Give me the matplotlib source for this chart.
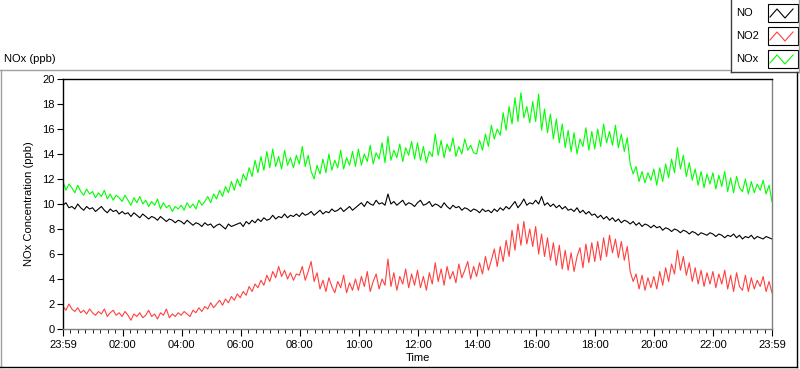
import numpy as np
import matplotlib.pyplot as plt
from matplotlib.lines import Line2D
from matplotlib.patches import Rectangle

plt.rcParams['font.family'] = ['Liberation Sans', 'DejaVu Sans']
plt.rcParams['font.size'] = 8

# one sample every 6 minutes, 23:59 -> 23:59
no = [9.9, 10.1, 9.7, 9.8, 9.6, 10.0, 9.7, 9.5, 9.8, 9.6, 9.7, 9.4, 9.6, 9.8, 9.5, 9.3, 9.6, 9.4, 9.5, 9.2,
      9.4, 9.2, 9.3, 9.0, 9.3, 9.1, 8.9, 9.2, 9.0, 8.8, 9.0, 8.9, 8.7, 9.0, 8.8, 8.6, 8.8, 8.7, 8.5, 8.7,
      8.6, 8.4, 8.7, 8.5, 8.3, 8.5, 8.4, 8.2, 8.5, 8.3, 8.4, 8.1, 8.3, 8.4, 8.2, 8.0, 8.4, 8.2, 8.3, 8.4,
      8.5, 8.2, 8.6, 8.4, 8.7, 8.5, 8.8, 8.6, 8.9, 8.7, 8.8, 9.1, 8.8, 9.0, 8.9, 9.2, 8.9, 9.1, 9.0, 9.2,
      9.0, 9.3, 9.1, 9.2, 9.4, 9.1, 9.3, 9.5, 9.2, 9.4, 9.3, 9.6, 9.4, 9.5, 9.7, 9.4, 9.6, 9.8, 9.5, 9.7,
      9.9, 10.1, 9.8, 10.2, 10.0, 9.9, 10.3, 10.0, 10.1, 9.9, 10.8, 10.0, 10.2, 9.9, 10.1, 10.3, 9.9, 10.1, 10.0, 9.8,
      10.1, 10.3, 9.9, 10.0, 10.2, 9.8, 10.0, 9.9, 9.7, 10.1, 9.8, 9.6, 9.9, 9.7, 9.8, 9.5, 9.7, 9.6, 9.4, 9.6,
      9.5, 9.3, 9.6, 9.4, 9.5, 9.3, 9.6, 9.4, 9.7, 9.5, 9.8, 9.6, 9.9, 10.2, 9.7, 10.0, 10.4, 9.9, 10.1, 10.0,
      10.3, 10.0, 10.6, 9.9, 10.1, 9.8, 10.0, 9.7, 9.9, 9.6, 9.8, 9.5, 9.6, 9.4, 9.7, 9.3, 9.5, 9.2, 9.4, 9.1,
      9.2, 8.9, 9.1, 8.8, 9.0, 8.7, 8.9, 8.6, 8.8, 8.5, 8.7, 8.6, 8.4, 8.6, 8.3, 8.5, 8.2, 8.4, 8.3, 8.1,
      8.3, 8.1, 8.2, 7.9, 8.1, 8.0, 7.8, 8.0, 7.9, 7.7, 7.9, 7.8, 7.6, 7.8, 7.7, 7.5, 7.7, 7.6, 7.5, 7.7,
      7.6, 7.4, 7.6, 7.5, 7.3, 7.5, 7.4, 7.6, 7.3, 7.5, 7.2, 7.4, 7.3, 7.5, 7.2, 7.4, 7.3, 7.2, 7.4, 7.3,
      7.2]

no2 = [1.8, 1.5, 2.0, 1.6, 1.4, 1.7, 1.3, 1.5, 1.2, 1.6, 1.3, 1.1, 1.4, 1.2, 1.6, 1.0, 1.3, 1.5, 1.1, 1.3,
       1.0, 1.4, 1.1, 0.7, 1.2, 1.0, 1.3, 0.9, 1.1, 1.5, 1.0, 1.2, 0.8, 1.3, 1.1, 1.6, 0.9, 1.2, 1.0, 1.3,
       1.1, 1.4, 1.2, 1.0, 1.5, 1.3, 1.7, 1.4, 1.8, 1.6, 2.1, 1.7, 2.0, 2.3, 1.9, 2.4, 2.1, 2.6, 2.3, 2.8,
       2.5, 3.0, 2.7, 3.4, 3.0, 3.6, 3.3, 3.9, 3.5, 4.3, 3.8, 4.6, 4.1, 5.0, 4.2, 4.7, 4.0, 4.5, 3.9, 4.4,
       4.3, 5.0, 3.9, 4.6, 5.4, 3.8, 4.5, 3.2, 3.9, 3.0, 4.1, 3.4, 2.9, 3.8, 3.3, 4.3, 2.9, 3.7, 3.1, 4.0,
       3.1, 4.2, 3.4, 4.6, 3.0, 3.8, 4.4, 3.2, 4.0, 3.5, 5.6, 3.4, 4.5, 3.1, 4.2, 3.6, 4.8, 3.3, 4.4, 3.5,
       4.7, 3.3, 4.2, 3.1, 4.5, 3.6, 5.3, 3.8, 4.8, 3.5, 5.0, 4.0, 4.6, 3.7, 5.2, 4.1, 4.7, 5.4, 4.0, 5.0,
       4.2, 5.3, 4.4, 5.8, 4.7, 5.5, 6.4, 5.0, 6.6, 5.4, 7.1, 5.8, 7.9, 6.3, 8.4, 6.7, 8.6, 6.8, 8.0, 6.6,
       8.2, 6.0, 7.6, 5.8, 7.3, 5.5, 6.9, 5.1, 6.7, 4.8, 6.3, 4.7, 6.1, 4.6, 5.8, 6.5, 4.9, 6.8, 5.3, 6.9,
       5.4, 7.0, 5.5, 7.3, 5.8, 7.5, 6.1, 7.2, 5.7, 7.0, 5.5, 6.6, 4.6, 3.8, 4.4, 3.2, 4.3, 3.1, 4.1, 3.3,
       4.2, 3.2, 4.6, 3.5, 4.9, 3.8, 5.2, 4.4, 6.3, 4.7, 5.8, 4.3, 5.3, 3.8, 4.9, 3.6, 4.7, 3.4, 4.5, 3.6,
       4.6, 3.3, 4.4, 3.6, 4.7, 3.2, 4.3, 3.0, 4.5, 3.4, 3.1, 4.3, 3.0, 4.1, 3.2, 3.9, 3.4, 4.2, 3.0, 3.8,
       2.9]

nox = [11.8, 11.1, 11.6, 11.3, 10.9, 11.5, 11.0, 10.7, 11.2, 10.8, 11.0, 10.5, 10.9, 10.6, 11.1, 10.4, 10.8, 10.3, 10.7, 10.5,
       10.2, 10.7, 10.3, 9.9, 10.5, 10.1, 10.6, 10.0, 10.3, 9.8, 10.2, 9.9, 10.4, 9.6, 10.1, 9.7, 9.9, 9.4, 9.8, 9.6,
       9.9, 9.5, 10.1, 9.7, 10.0, 9.6, 10.3, 9.9, 10.2, 10.6, 10.1, 10.8, 10.4, 11.1, 10.6, 11.4, 10.9, 11.8, 11.1, 12.0,
       11.4, 12.4, 11.9, 12.9, 12.2, 13.5, 12.5, 13.8, 12.7, 14.2, 12.9, 14.4, 13.0, 13.8, 12.8, 14.3, 13.1, 13.7, 12.9, 13.9,
       13.2, 14.6, 13.0, 13.9, 12.6, 12.0, 13.1, 12.4, 13.6, 12.5, 14.0, 12.7, 13.5, 12.9, 14.3, 12.8, 13.7, 13.1, 14.2, 13.0,
       14.4, 13.1, 14.0, 13.4, 14.7, 13.2, 14.1, 13.6, 14.9, 13.3, 15.4, 13.5, 14.3, 13.7, 14.8, 13.4, 14.5, 13.9, 15.0, 13.6,
       14.9, 13.5, 14.6, 13.3, 14.2, 13.8, 15.6, 13.9, 15.1, 13.7, 14.8, 14.2, 15.3, 13.8, 14.6, 14.0, 15.2, 14.3, 14.7, 14.1,
       14.0, 15.1, 14.3, 15.6, 14.6, 16.3, 15.2, 16.0, 15.5, 17.3, 15.9, 17.8, 16.4, 18.5, 16.6, 18.9, 16.9, 17.8, 16.5, 18.2,
       16.6, 18.8, 15.9, 17.6, 15.7, 17.2, 15.2, 16.8, 14.9, 16.4, 14.5, 15.9, 14.2, 15.7, 14.0, 15.2, 14.6, 16.1, 14.3, 15.8,
       14.4, 16.0, 14.6, 16.4, 14.9, 15.8, 14.7, 16.3, 14.5, 15.6, 14.2, 15.3, 13.2, 12.4, 13.0, 11.8, 12.6, 11.7, 12.5, 11.9,
       12.8, 11.5, 12.9, 11.8, 13.2, 12.1, 13.6, 12.5, 14.5, 12.8, 13.9, 12.2, 13.3, 11.9, 12.8, 11.5, 12.6, 11.3, 12.4, 11.6,
       12.5, 11.2, 12.3, 11.4, 12.6, 11.0, 12.1, 10.9, 12.2, 11.3, 11.0, 12.0, 10.8, 11.8, 10.9, 11.6, 11.1, 11.9, 10.8, 11.5,
       10.2]

tick_min = [0, 121, 241, 361, 481, 601, 721, 841, 961, 1081, 1201, 1321, 1440]
tick_lab = ['23:59', '02:00', '04:00', '06:00', '08:00', '10:00', '12:00',
            '14:00', '16:00', '18:00', '20:00', '22:00', '23:59']

series = [('NO', no, 'black'), ('NO2', no2, '#ff4040'), ('NOx', nox, '#00ff00')]

fig = plt.figure(figsize=(8, 3.69), dpi=100)
W, H = 800.0, 369.0
ax = fig.add_axes([63 / W, 1 - 329 / H, (772 - 63) / W, (329 - 79) / H])

for name, vals, col in series:
    t = np.linspace(0, 1440, len(vals))
    ax.plot(t, vals, color=col, lw=0.8)

ax.set_xlim(0, 1440)
ax.set_ylim(0, 20)
ax.set_yticks(np.arange(0, 21, 2))
ax.set_xticks(tick_min)
ax.set_xticklabels(tick_lab)
minor = []
for a, b in zip(tick_min[:-1], tick_min[1:]):
    minor += list(np.linspace(a, b, 9)[1:-1])
ax.set_xticks(minor, minor=True)
ax.tick_params(axis='both', direction='out', colors='black', labelsize=8)
ax.tick_params(axis='y', length=4, pad=2)
ax.tick_params(axis='x', which='major', length=5, pad=3)
ax.tick_params(axis='x', which='minor', length=3)
ax.spines['left'].set_color('black')
ax.spines['top'].set_color('black')
ax.spines['bottom'].set_color('#808080')
ax.spines['right'].set_color('#808080')
for s in ax.spines.values():
    s.set_linewidth(1.0)

ax.set_ylabel('NOx Concentration (ppb)', fontsize=8, labelpad=6)
ax.set_xlabel('Time', fontsize=8, labelpad=2)
fig.text(4 / W, 1 - 59 / H, 'NOx (ppb)', fontsize=8, va='center', ha='left')

# panel frame
fig.add_artist(Line2D([0, 730 / W], [1 - 69.5 / H] * 2, color='#a0a0a0', lw=1))
fig.add_artist(Line2D([0.8 / W] * 2, [1 - 69.5 / H, 1 - 367 / H], color='#a0a0a0', lw=1))
fig.add_artist(Line2D([0, 797 / W], [1 - 367 / H] * 2, color='black', lw=1))
fig.add_artist(Line2D([797 / W] * 2, [1 - 72 / H, 1 - 367 / H], color='black', lw=1))

# legend panel
fig.add_artist(Line2D([730.5 / W] * 2, [1, 1 - 72 / H], color='#404040', lw=1))
fig.add_artist(Line2D([730.5 / W, 1], [1 - 72 / H] * 2, color='#404040', lw=1))
fig.add_artist(Line2D([799 / W] * 2, [1, 1 - 72 / H], color='#a0a0a0', lw=1))
rows = [13, 36, 59]
for (name, vals, col), yc in zip(series, rows):
    fig.text(736 / W, 1 - yc / H, name, fontsize=8, va='center', ha='left')
    fig.add_artist(Rectangle((767.5 / W, 1 - (yc + 9) / H), 30 / W, 18 / H,
                             facecolor='white', edgecolor='black', lw=0.8))
    zx = np.array([770, 777, 785, 793]) / W
    zy = 1 - (yc + np.array([4, -4, 5, -4])) / H
    fig.add_artist(Line2D(zx, zy, color=col, lw=0.8))

fig.savefig('out.png', dpi=100)
